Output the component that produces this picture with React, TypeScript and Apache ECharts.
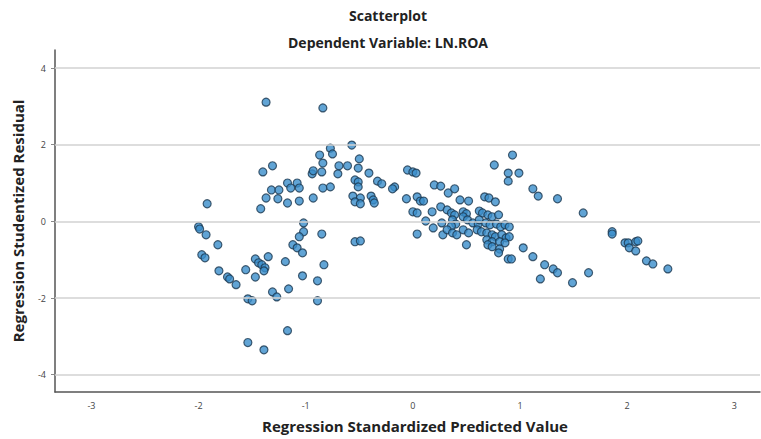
import React, { useEffect, useRef } from "react";
import * as echarts from "echarts";

const titleText = "Scatterplot";
const subtitleText = "Dependent Variable: LN.ROA";
const xAxisName = "Regression Standardized Predicted Value";
const yAxisName = "Regression Studentized Residual";

const xTicks = [-3, -2, -1, 0, 1, 2, 3];
const yTicks = [-4, -2, 0, 2, 4];

// [standardized predicted value, studentized residual]
const leftGroup: [number, number][] = [
  [-1.37, 3.11], [-0.84, 2.96], [-2.0, -0.14], [-1.99, -0.2], [-1.92, 0.46],
  [-1.93, -0.35], [-1.82, -0.61], [-1.97, -0.87], [-1.94, -0.95], [-1.81, -1.29],
  [-1.73, -1.45], [-1.71, -1.5], [-1.65, -1.65], [-1.56, -1.26], [-1.47, -0.98],
  [-1.44, -1.08], [-1.41, -1.13], [-1.38, -1.21], [-1.39, -1.29], [-1.35, -0.92],
  [-1.47, -1.45], [-1.54, -2.02], [-1.5, -2.07], [-1.31, -1.84], [-1.27, -1.97],
  [-1.19, -1.05], [-1.16, -1.76], [-1.17, -2.85], [-1.54, -3.16], [-1.39, -3.35],
  [-1.02, -0.04], [-1.02, -0.27], [-1.06, -0.4], [-0.85, -0.33], [-1.12, -0.61],
  [-1.08, -0.69], [-1.03, -0.82], [-0.83, -1.13], [-1.03, -1.42], [-0.89, -1.55],
  [-0.89, -2.07], [-0.54, -0.53], [-0.49, -0.51], [-1.4, 1.29], [-1.31, 1.45],
  [-1.42, 0.33], [-1.37, 0.61], [-1.32, 0.82], [-1.25, 0.82], [-1.26, 0.59],
  [-1.17, 0.48], [-1.17, 1.0], [-1.08, 1.0], [-1.14, 0.87], [-1.06, 0.87],
  [-1.06, 0.53], [-0.94, 1.24], [-0.93, 1.32], [-0.93, 0.61], [-0.57, 1.99],
  [-0.77, 1.91], [-0.75, 1.76], [-0.87, 1.73], [-0.84, 1.52], [-0.5, 1.63],
  [-0.69, 1.45], [-0.61, 1.45], [-0.51, 1.39], [-0.85, 1.29], [-0.7, 1.24],
  [-0.41, 1.26], [-0.54, 1.08], [-0.51, 1.03], [-0.51, 0.9], [-0.33, 1.05],
  [-0.29, 0.98], [-0.77, 0.9], [-0.84, 0.87], [-0.17, 0.9], [-0.19, 0.85],
  [-0.05, 1.34], [0.0, 1.29], [0.03, 1.26], [-0.56, 0.66], [-0.49, 0.61],
  [-0.54, 0.51], [-0.49, 0.46], [-0.39, 0.66], [-0.37, 0.56], [-0.36, 0.48],
  [-0.06, 0.59], [0.04, 0.64], [0.07, 0.53], [0.1, 0.53],
];

const centerGroup: [number, number][] = [
  [0.93, 1.73], [0.76, 1.47], [0.89, 1.26], [0.99, 1.26], [0.89, 1.05],
  [0.2, 0.95], [0.26, 0.92], [0.33, 0.74], [0.39, 0.85], [1.12, 0.85],
  [1.17, 0.66], [0.67, 0.64], [0.71, 0.61], [0.77, 0.51], [0.44, 0.56],
  [0.52, 0.53], [0.18, 0.25], [0.26, 0.38], [0.32, 0.3], [0.36, 0.22],
  [0.39, 0.17], [0.47, 0.25], [0.5, 0.2], [0.47, 0.12], [0.62, 0.27],
  [0.65, 0.22], [0.7, 0.17], [0.74, 0.12], [0.8, 0.17], [0.12, 0.01],
  [0.27, -0.04], [0.19, -0.17], [0.37, 0.04], [0.4, -0.07], [0.36, -0.12],
  [0.51, 0.04], [0.56, -0.04], [0.61, -0.07], [0.62, 0.04], [0.68, -0.04],
  [0.72, -0.09], [0.78, -0.07], [0.82, -0.14], [0.86, -0.09], [0.9, -0.14],
  [0.28, -0.35], [0.32, -0.22], [0.37, -0.3], [0.41, -0.35], [0.47, -0.22],
  [0.52, -0.3], [0.6, -0.22], [0.64, -0.27], [0.69, -0.3], [0.74, -0.35],
  [0.77, -0.4], [0.83, -0.35], [0.87, -0.43], [0.9, -0.4], [0.5, -0.61],
  [0.69, -0.48], [0.74, -0.53], [0.7, -0.61], [0.74, -0.66], [0.81, -0.53],
  [0.86, -0.56], [0.81, -0.72], [0.8, -0.82], [0.89, -0.98], [0.92, -0.98],
  [1.03, -0.69], [0.0, 0.25], [0.04, 0.22], [0.04, -0.33],
];

const rightGroup: [number, number][] = [
  [1.12, -0.92], [1.23, -1.13], [1.35, 0.59], [1.59, 0.22], [1.86, -0.27],
  [1.86, -0.33], [1.98, -0.56], [2.01, -0.56], [2.02, -0.69], [2.08, -0.53],
  [2.1, -0.51], [2.08, -0.77], [2.18, -1.03], [2.24, -1.11], [2.38, -1.24],
  [1.31, -1.24], [1.35, -1.34], [1.19, -1.5], [1.64, -1.34], [1.49, -1.6],
];

const FONT = "'Open Sans', 'Noto Sans', sans-serif";

export default function App() {
  const ref = useRef<HTMLDivElement>(null);
  useEffect(() => {
    if (!ref.current) return;
    const chart = echarts.init(ref.current, undefined, { renderer: "svg" });
    const points = [...leftGroup, ...centerGroup, ...rightGroup];
    chart.setOption({
      animation: false,
      backgroundColor: "#ffffff",
      graphic: [
        {
          type: "text",
          x: 388,
          y: 15,
          style: {
            text: titleText,
            textAlign: "center",
            textVerticalAlign: "middle",
            font: `bold 14px ${FONT}`,
            fill: "#222",
          },
        },
        {
          type: "text",
          x: 388,
          y: 42,
          style: {
            text: subtitleText,
            textAlign: "center",
            textVerticalAlign: "middle",
            font: `bold 14px ${FONT}`,
            fill: "#222",
          },
        },
      ],
      grid: { left: 55, right: 1, top: 50, bottom: 47, outerBoundsMode: "none", containLabel: false },
      xAxis: {
        type: "value",
        min: -3.34,
        max: 3.24,
        name: xAxisName,
        nameLocation: "middle",
        nameGap: 26,
        nameTextStyle: {
          fontFamily: FONT,
          fontWeight: "bold",
          fontSize: 15,
          color: "#222",
          padding: [0, 0, 0, 15],
        },
        axisLine: { show: true, onZero: false, lineStyle: { color: "#555", width: 1.5 } },
        axisTick: { show: false },
        splitLine: { show: false },
        axisLabel: {
          customValues: xTicks,
          fontFamily: FONT,
          fontSize: 9,
          color: "#444",
          margin: 9,
        },
      },
      yAxis: {
        type: "value",
        min: -4.45,
        max: 4.47,
        name: yAxisName,
        nameLocation: "middle",
        nameGap: 30,
        nameTextStyle: { fontFamily: FONT, fontWeight: "bold", fontSize: 15, color: "#222" },
        axisLine: { show: true, onZero: false, lineStyle: { color: "#555", width: 1.5 } },
        axisTick: { show: true, customValues: yTicks, length: 4, lineStyle: { color: "#888" } },
        splitLine: { show: false },
        axisLabel: {
          customValues: yTicks,
          fontFamily: FONT,
          fontSize: 9,
          color: "#444",
          margin: 9,
        },
      },
      series: [
        {
          type: "scatter",
          data: [],
          z: 1,
          silent: true,
          markLine: {
            silent: true,
            symbol: ["none", "none"],
            label: { show: false },
            lineStyle: { color: "#d2d2d2", width: 1.5, type: "solid" },
            data: yTicks.map((v) => ({ yAxis: v })),
          },
        },
        {
          type: "scatter",
          z: 3,
          data: points,
          symbol: "circle",
          symbolSize: 8,
          itemStyle: {
            color: "#3a8dcb",
            borderColor: "#1b3850",
            borderWidth: 1.2,
          },
        },
      ],
    });
    return () => chart.dispose();
  }, []);
  return (
    <div
      ref={ref}
      style={{ position: "fixed", left: 0, top: 0, width: 761, height: 439 }}
    />
  );
}
